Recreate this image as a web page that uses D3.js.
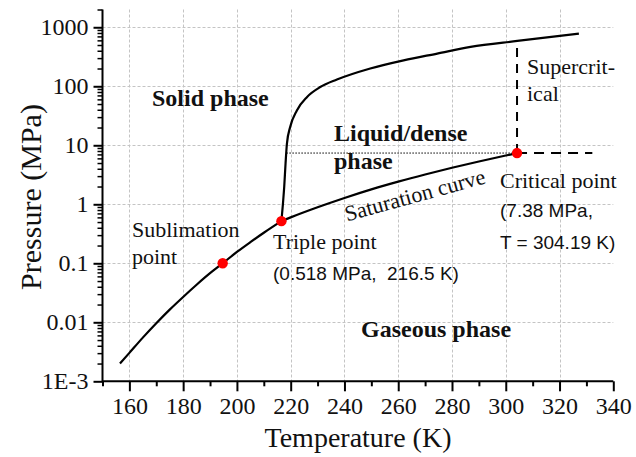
<!DOCTYPE html>
<html>
<head>
<meta charset="utf-8">
<script src="https://cdn.jsdelivr.net/npm/d3@7"></script>
<style>
  html, body { margin: 0; padding: 0; background: #fff; }
  svg { display: block; }
  text { white-space: pre; }
</style>
</head>
<body>
<svg id="chart" width="636" height="457"></svg>
<script>
// ---- data ----
const sublimationT = [156.5, 160, 165, 170, 175, 180, 185, 190, 194.7, 200, 205, 210, 216.55];
const sublimationP = [0.002, 0.00303, 0.0055, 0.00964, 0.0164, 0.0269, 0.0433, 0.0679, 0.1, 0.1555, 0.228, 0.329, 0.518];

const saturationT = [216.55, 220, 230, 240, 250, 260, 270, 280, 290, 300, 304.19];
const saturationP = [0.518, 0.60, 0.89, 1.28, 1.79, 2.42, 3.20, 4.16, 5.32, 6.71, 7.38];

const meltingT = [216.55, 217.1, 217.6, 218.1, 218.6, 219.8, 222.3, 226.1, 231.0, 237.2, 249.6, 262.0, 274.5, 286.9, 304.3, 327.2];
const meltingP = [0.518, 1, 2, 5, 10.7, 20.4, 39, 66, 97, 130, 200, 275, 358, 464, 586, 782];

const pointNames = ["Sublimation point", "Triple point", "Critical point"];
const pointT = [194.7, 216.55, 304.19];
const pointP = [0.1, 0.518, 7.38];

// guide lines
const dottedT = [218.4, 304.19];
const dottedP = [7.38, 7.38];
const dashedHT = [304.19, 332.2];
const dashedHP = [7.38, 7.38];
const dashedVT = [304.19, 304.19];
const dashedVP = [7.38, 586];

const xTicks = [160, 180, 200, 220, 240, 260, 280, 300, 320, 340];
const xMinorTicks = [150, 170, 190, 210, 230, 250, 270, 290, 310, 330];
const xGrid = [160, 180, 200, 220, 240, 260, 280, 300, 320];
const yTicks = [0.001, 0.01, 0.1, 1, 10, 100, 1000];
const yTickLabels = ["1E-3", "0.01", "0.1", "1", "10", "100", "1000"];
const yGrid = [0.01, 0.1, 1, 10, 100, 1000];

// ---- layout ----
const serif = "'Liberation Serif', 'Times New Roman', serif";
const sans = "'Liberation Sans', Arial, sans-serif";
const svg = d3.select("#chart");

const x = d3.scaleLinear().domain([150, 340]).range([102.5, 613.3]);
const y = d3.scaleLog().domain([0.001, 2000]).range([381.3, 9.5]);

const yMinor = [];
for (let e = -3; e <= 3; e++) {
  for (let k = 2; k <= 9; k++) {
    const v = k * Math.pow(10, e);
    if (v <= 2000) yMinor.push(v);
  }
}

// grid
const grid = svg.append("g").attr("stroke", "#c4c4c4").attr("stroke-width", 1)
  .attr("stroke-dasharray", "3,2");
grid.selectAll("line.v").data(xGrid).join("line").attr("class", "v")
  .attr("x1", d => Math.round(x(d)) + 0.5).attr("x2", d => Math.round(x(d)) + 0.5)
  .attr("y1", y(2000)).attr("y2", y(0.001));
grid.selectAll("line.h").data(yGrid).join("line").attr("class", "h")
  .attr("x1", x(150)).attr("x2", x(340))
  .attr("y1", d => Math.round(y(d)) + 0.5).attr("y2", d => Math.round(y(d)) + 0.5);

// axes
const xAxis = d3.axisBottom(x).tickValues(xTicks).tickSize(10).tickPadding(6).tickFormat(d3.format("d"));
const gx = svg.append("g").attr("transform", `translate(0,${y(0.001)})`).call(xAxis);
gx.select(".domain").attr("stroke-width", 2).attr("d", `M${x(150)},0H${x(340)}`);
gx.selectAll(".tick line").attr("stroke-width", 2);
gx.selectAll(".tick text").attr("font-family", serif).attr("font-size", 24).attr("fill", "#111");
const gxm = svg.append("g").attr("transform", `translate(0,${y(0.001)})`)
  .call(d3.axisBottom(x).tickValues(xMinorTicks).tickSize(5).tickFormat(""));
gxm.select(".domain").remove();
gxm.selectAll(".tick line").attr("stroke-width", 2);

const yAxis = d3.axisLeft(y).tickValues(yTicks).tickSize(9).tickPadding(5)
  .tickFormat((d, i) => yTickLabels[i]);
const gy = svg.append("g").attr("transform", `translate(${x(150)},0)`).call(yAxis);
gy.select(".domain").attr("stroke-width", 2).attr("d", `M0,${y(2000)}V${y(0.001) + 1}`);
gy.selectAll(".tick line").attr("stroke-width", 2);
gy.selectAll(".tick text").attr("font-family", serif).attr("font-size", 24).attr("fill", "#111");
const gym = svg.append("g").attr("transform", `translate(${x(150)},0)`)
  .call(d3.axisLeft(y).tickValues(yMinor).tickSize(5).tickFormat(""));
gym.select(".domain").remove();
gym.selectAll(".tick line").attr("stroke-width", 1.5);

// axis titles
svg.append("text").attr("x", 358).attr("y", 447).attr("text-anchor", "middle")
  .attr("font-family", serif).attr("font-size", 28).attr("fill", "#111").text("Temperature (K)");
svg.append("text").attr("transform", "translate(41,197) rotate(-90)").attr("text-anchor", "middle")
  .attr("font-family", serif).attr("font-size", 30).attr("fill", "#111").text("Pressure (MPa)");

// curves
const line = d3.line().x(d => x(d[0])).y(d => y(d[1])).curve(d3.curveMonotoneX);
const zip = (a, b) => a.map((v, i) => [v, b[i]]);
const curves = [zip(sublimationT, sublimationP), zip(saturationT, saturationP), zip(meltingT, meltingP)];
svg.append("g").selectAll("path").data(curves).join("path")
  .attr("d", line).attr("fill", "none").attr("stroke", "#000").attr("stroke-width", 2.2);

const straight = d3.line().x(d => x(d[0])).y(d => y(d[1]));
svg.append("path").datum(zip(dottedT, dottedP)).attr("d", straight)
  .attr("fill", "none").attr("stroke", "#000").attr("stroke-width", 1).attr("stroke-dasharray", "1.5,1.5");
svg.append("path").datum(zip(dashedHT, dashedHP)).attr("d", straight)
  .attr("fill", "none").attr("stroke", "#000").attr("stroke-width", 2).attr("stroke-dasharray", "10,7");
svg.append("path").datum(zip(dashedVT, dashedVP)).attr("d", straight)
  .attr("fill", "none").attr("stroke", "#000").attr("stroke-width", 2).attr("stroke-dasharray", "9,7");

// points
svg.append("g").selectAll("circle").data(zip(pointT, pointP)).join("circle")
  .attr("cx", d => x(d[0])).attr("cy", d => y(d[1])).attr("r", 5.2).attr("fill", "#ff0000");

// annotations
const notes = [
  { t: "Solid phase", x: 152, y: 106, f: serif, s: 24, w: "bold" },
  { t: "Liquid/dense", x: 334, y: 141, f: serif, s: 24, w: "bold" },
  { t: "phase", x: 334, y: 169, f: serif, s: 24, w: "bold" },
  { t: "Gaseous phase", x: 361, y: 337, f: serif, s: 24, w: "bold" },
  { t: "Supercrit-", x: 527, y: 74, f: serif, s: 22, w: "normal" },
  { t: "ical", x: 527, y: 101, f: serif, s: 22, w: "normal" },
  { t: "Critical point", x: 500, y: 188, f: serif, s: 22, w: "normal" },
  { t: "(7.38 MPa,", x: 500, y: 217, f: sans, s: 19, w: "normal" },
  { t: "T = 304.19 K)", x: 500, y: 249, f: sans, s: 19, w: "normal" },
  { t: "Triple point", x: 273, y: 249, f: serif, s: 22, w: "normal" },
  { t: "(0.518 MPa,  216.5 K)", x: 273, y: 280, f: sans, s: 19, w: "normal" },
  { t: "Sublimation", x: 132, y: 237, f: serif, s: 22, w: "normal" },
  { t: "point", x: 132, y: 264, f: serif, s: 22, w: "normal" }
];
svg.append("g").selectAll("text").data(notes).join("text")
  .attr("x", d => d.x).attr("y", d => d.y)
  .attr("font-family", d => d.f).attr("font-size", d => d.s).attr("font-weight", d => d.w)
  .attr("fill", "#111").text(d => d.t);

svg.append("text").attr("transform", "translate(347,221.5) rotate(-15.4)")
  .attr("font-family", serif).attr("font-size", 22).attr("fill", "#111").text("Saturation curve");
</script>
</body>
</html>
